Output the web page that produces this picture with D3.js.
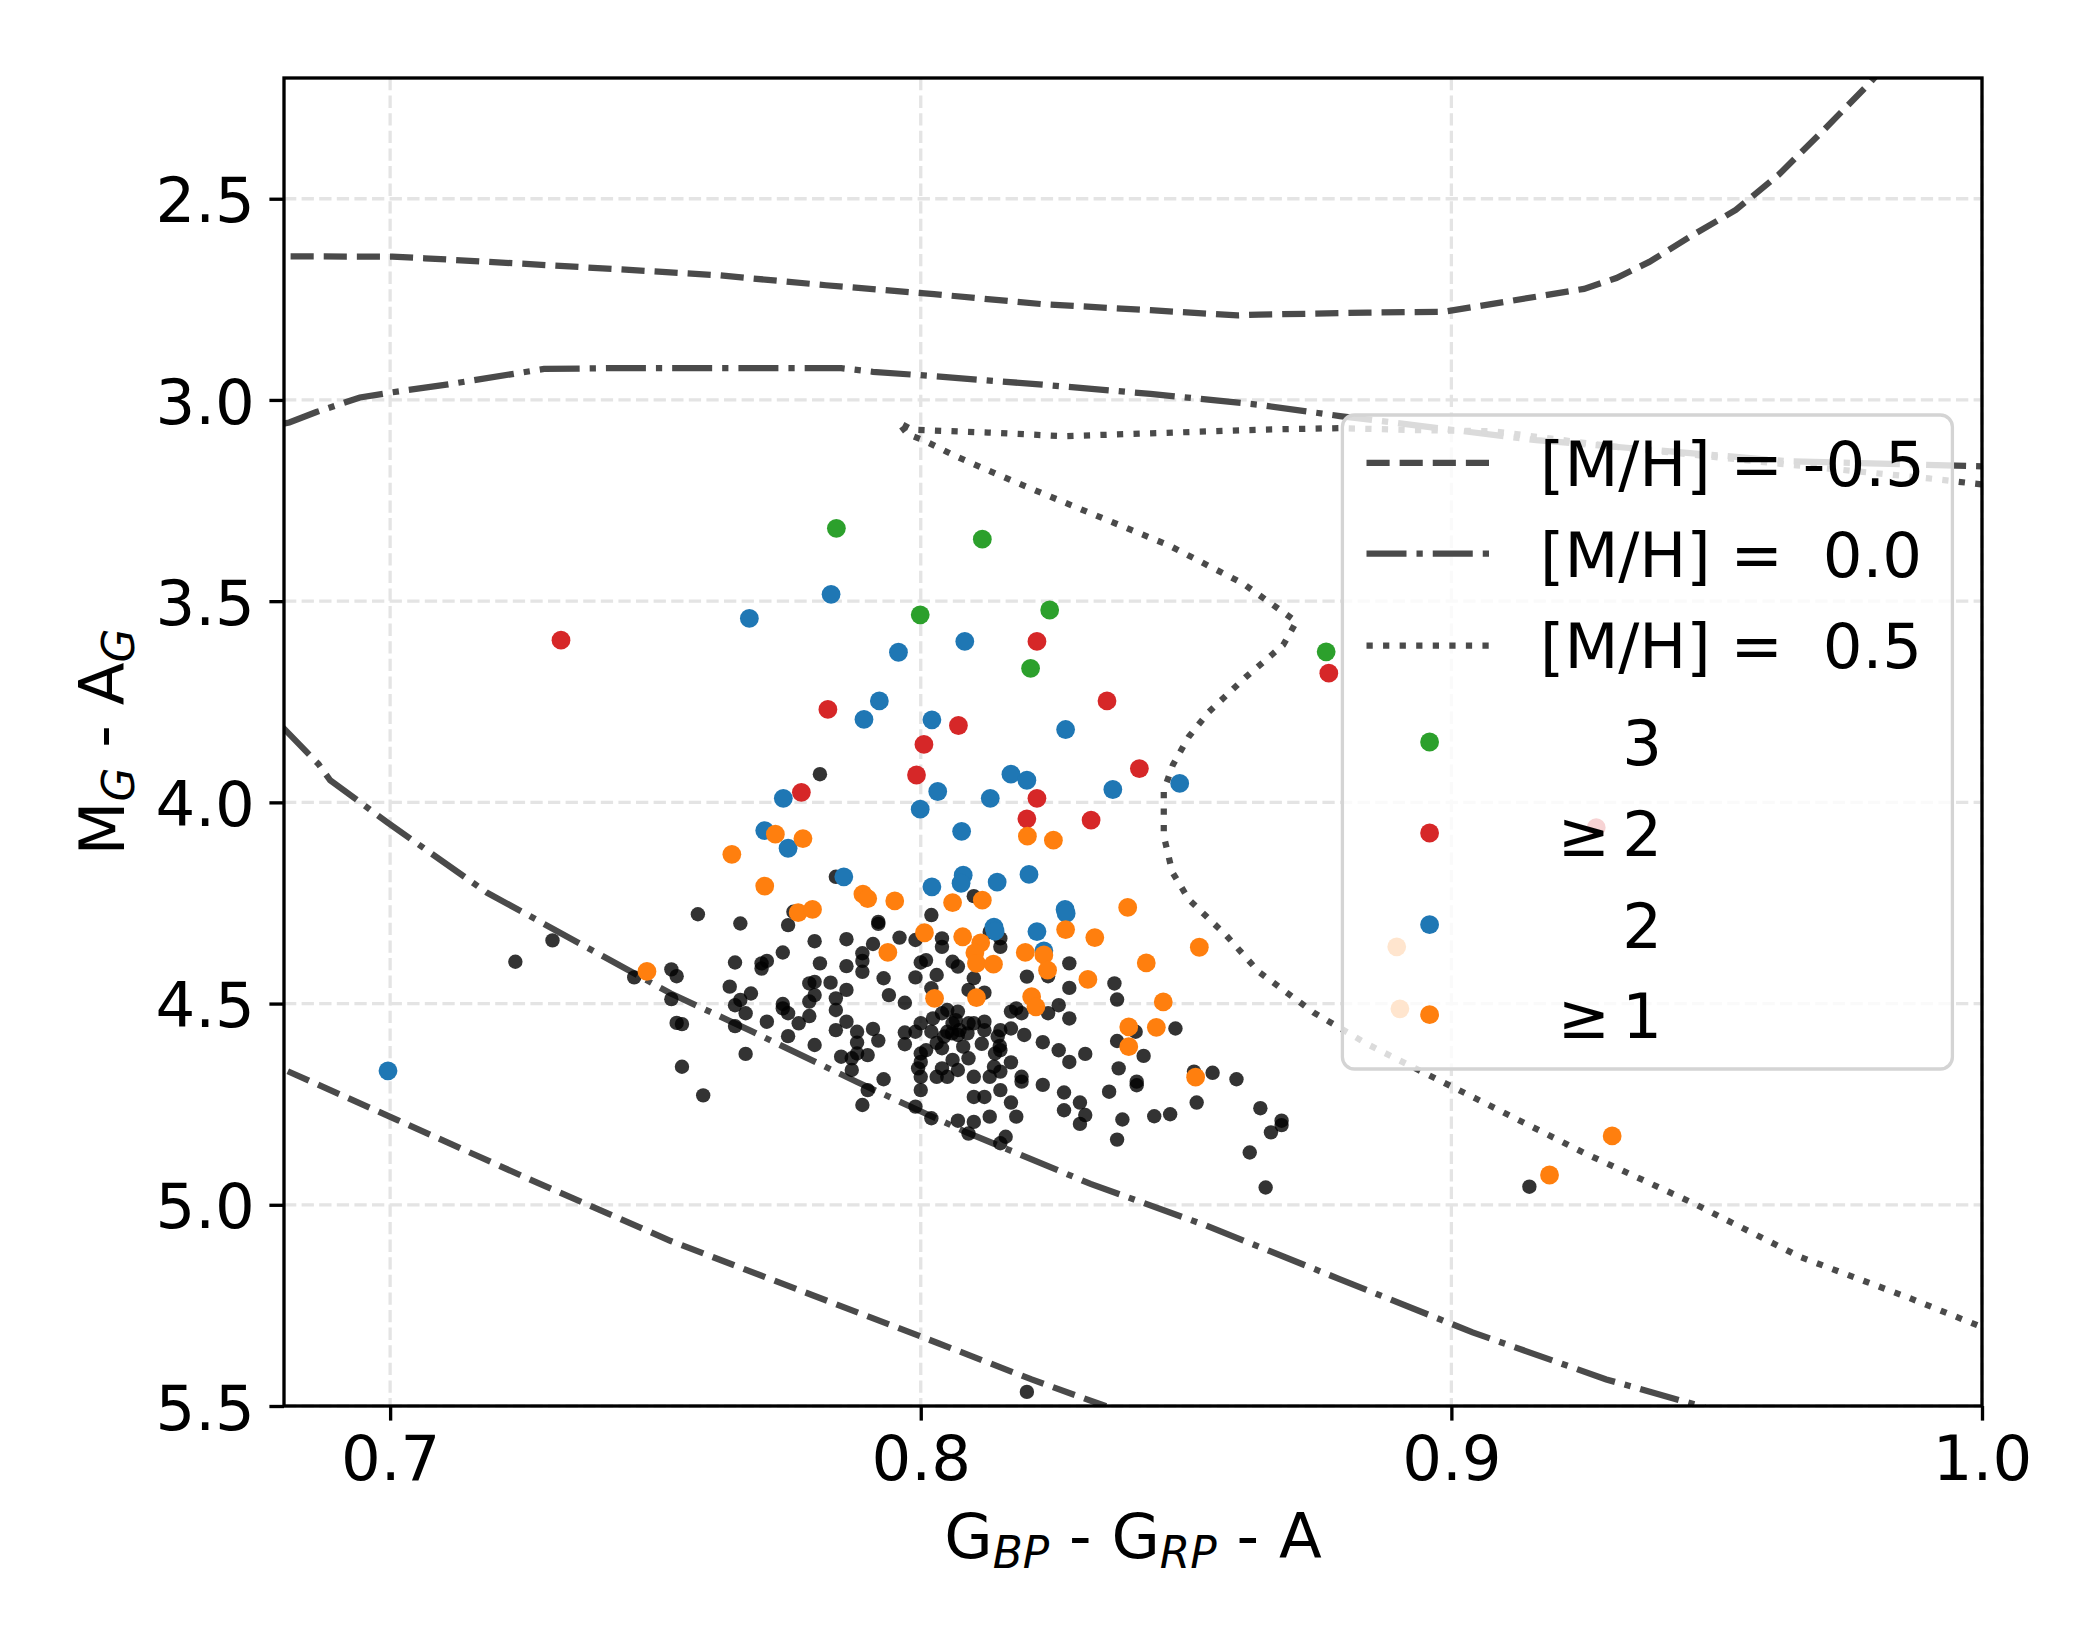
<!DOCTYPE html>
<html><head><meta charset="utf-8">
<script src="https://cdn.jsdelivr.net/npm/d3@7"></script>
<style>
body{margin:0;background:#fff}
svg{display:block}
text{font-family:"DejaVu Sans",sans-serif;fill:#000}
</style>
</head><body>
<svg id="chart" width="2100" height="1650"></svg>
<script>
// ---------- data ----------
const xTicks = [0.7, 0.8, 0.9, 1.0];
const yTicks = [2.5, 3.0, 3.5, 4.0, 4.5, 5.0, 5.5];

const lineLabels = ["[M/H] = -0.5", "[M/H] =  0.0", "[M/H] =  0.5"];
const pointLabels = ["3", "\u2265\u20092", "2", "\u2265\u20091"];

// isochrones (color, magnitude); null separates branches
const isoM05 = [[0.675,2.643],[0.7004,2.644],[0.7065,2.648],[0.731,2.666],[0.7617,2.690],[0.7821,2.715],[0.8025,2.737],[0.8229,2.762],[0.8433,2.777],[0.8597,2.790],[0.8637,2.788],[0.8842,2.783],[0.8985,2.781],[0.9046,2.768],[0.925,2.724],[0.9311,2.697],[0.9373,2.657],[0.9454,2.591],[0.9536,2.528],[0.9617,2.440],[0.9699,2.333],[0.9791,2.209],[0.981,2.18],
  null,
  [0.675,4.635],[0.68,4.664],[0.7015,4.79],[0.7277,4.945],[0.7529,5.09],[0.7781,5.217],[0.8033,5.344],[0.8209,5.434],[0.8348,5.50],[0.84,5.53]];

const isoM00 = [[0.6795,3.06],[0.681,3.056],[0.6861,3.030],[0.6943,2.994],[0.7004,2.981],[0.7106,2.962],[0.729,2.923],[0.7413,2.921],[0.7850,2.921],[0.7910,2.930],[0.8025,2.941],[0.8229,2.962],[0.8433,2.985],[0.8637,3.012],[0.879,3.040],[0.916,3.100],[0.963,3.152],[1.0,3.165],[1.003,3.166],
  null,
  [0.6795,3.81],[0.6865,3.905],[0.6887,3.945],[0.6995,4.05],[0.7182,4.224],[0.7297,4.307],[0.7529,4.475],[0.768,4.568],[0.788,4.695],[0.8083,4.818],[0.832,4.948],[0.8537,5.051],[0.8788,5.184],[0.904,5.317],[0.9292,5.434],[0.9469,5.50],[0.95,5.515]];

const isoP05 = [[1.003,3.213],[1.0,3.21],[0.99,3.195],[0.963,3.16],[0.93,3.115],[0.908,3.078],[0.893,3.075],[0.879,3.070],[0.8637,3.074],[0.8433,3.083],[0.827,3.090],[0.8127,3.081],[0.7984,3.074],[0.7958,3.056],[0.7975,3.085],[0.8005,3.10],[0.8066,3.14],[0.8176,3.203],[0.8321,3.282],[0.8467,3.361],[0.8607,3.456],[0.8708,3.551],[0.8683,3.609],[0.8613,3.688],[0.8543,3.775],[0.8505,3.837],[0.8475,3.907],[0.8458,3.971],[0.8458,4.083],[0.8474,4.173],[0.8505,4.241],[0.8576,4.331],[0.8637,4.421],[0.874,4.522],[0.8842,4.601],[0.8944,4.669],[0.9046,4.736],[0.925,4.871],[0.9454,4.995],[0.9658,5.130],[0.9862,5.231],[1.0,5.304],[1.003,5.32]];

// stars (color, magnitude)
const blackPts = [[0.758,4.278],[0.766,4.301],[0.775,4.305],[0.776,4.272],[0.780,4.345],[0.774,4.373],[0.765,4.398],[0.770,4.400],[0.770,4.413],[0.771,4.394],[0.753,4.415],[0.754,4.432],[0.746,4.435],[0.764,4.458],[0.768,4.475],[0.766,4.491],[0.765,4.504],[0.767,4.524],[0.753,4.489],[0.754,4.548],[0.755,4.551],[0.765,4.556],[0.771,4.545],[0.774,4.501],[0.774,4.512],[0.775,4.524],[0.777,4.549],[0.775,4.581],[0.780,4.603],[0.767,4.625],[0.755,4.657],[0.759,4.728],[0.779,4.450],[0.780,4.446],[0.780,4.479],[0.779,4.495],[0.779,4.531],[0.781,4.400],[0.783,4.448],[0.784,4.487],[0.784,4.516],[0.786,4.466],[0.786,4.545],[0.784,4.566],[0.786,4.407],[0.786,4.340],[0.788,4.570],[0.788,4.597],[0.788,4.624],[0.787,4.636],[0.785,4.632],[0.790,4.628],[0.792,4.592],[0.791,4.563],[0.789,4.421],[0.789,4.394],[0.789,4.375],[0.791,4.352],[0.792,4.297],[0.792,4.302],[0.793,4.437],[0.794,4.479],[0.796,4.336],[0.799,4.342],[0.799,4.435],[0.797,4.498],[0.797,4.572],[0.797,4.601],[0.801,4.392],[0.800,4.398],[0.802,4.280],[0.803,4.429],[0.804,4.338],[0.804,4.359],[0.802,4.462],[0.800,4.549],[0.802,4.570],[0.799,4.570],[0.800,4.624],[0.800,4.645],[0.800,4.682],[0.800,4.715],[0.7995,4.661],[0.801,4.616],[0.804,4.661],[0.803,4.682],[0.805,4.516],[0.806,4.549],[0.804,4.524],[0.805,4.570],[0.807,4.578],[0.807,4.520],[0.809,4.549],[0.808,4.607],[0.809,4.636],[0.807,4.665],[0.805,4.682],[0.806,4.640],[0.804,4.611],[0.810,4.549],[0.812,4.545],[0.812,4.566],[0.814,4.624],[0.813,4.682],[0.810,4.682],[0.810,4.732],[0.812,4.732],[0.813,4.781],[0.810,4.794],[0.807,4.791],[0.809,4.823],[0.802,4.785],[0.799,4.756],[0.793,4.688],[0.790,4.715],[0.789,4.752],[0.787,4.665],[0.806,4.396],[0.807,4.408],[0.810,4.437],[0.809,4.466],[0.812,4.473],[0.810,4.233],[0.813,4.322],[0.784,4.185],
  [0.815,4.338],[0.815,4.359],[0.828,4.400],[0.820,4.433],[0.824,4.432],[0.828,4.461],[0.8365,4.450],[0.837,4.490],[0.817,4.520],[0.818,4.512],[0.819,4.524],[0.824,4.524],[0.826,4.504],[0.828,4.537],[0.815,4.566],[0.817,4.562],[0.8195,4.578],[0.823,4.596],[0.815,4.616],[0.817,4.646],[0.826,4.616],[0.828,4.645],[0.831,4.625],[0.837,4.593],[0.8405,4.570],[0.848,4.562],[0.842,4.630],[0.8373,4.661],[0.815,4.669],[0.819,4.682],[0.819,4.694],[0.823,4.702],[0.815,4.715],[0.817,4.746],[0.818,4.781],[0.827,4.721],[0.830,4.746],[0.831,4.777],[0.830,4.799],[0.827,4.765],[0.8355,4.719],[0.8407,4.694],[0.8407,4.703],[0.838,4.788],[0.837,4.838],[0.844,4.780],[0.847,4.775],[0.852,4.746],[0.8515,4.669],[0.855,4.672],[0.8595,4.688],[0.864,4.760],[0.868,4.791],[0.868,4.802],[0.866,4.820],[0.862,4.870],[0.865,4.957],[0.816,4.831],[0.815,4.847],
  [0.7236,4.396],[0.7306,4.343],[0.781,3.930],[0.820,5.465],[0.9147,4.955],
  [0.8023,4.537],[0.8066,4.541],[0.8073,4.566],[0.8044,4.582],[0.8059,4.574],[0.8088,4.574],[0.8145,4.582],[0.8149,4.605],[0.8138,4.657],[0.8115,4.600],[0.8030,4.598]];

const greenPts = [[0.7841,3.319],[0.8116,3.346],[0.7999,3.534],[0.8243,3.522],[0.8207,3.667],[0.8764,3.626]];

const redPts = [[0.7322,3.597],[0.8219,3.600],[0.7825,3.769],[0.8071,3.809],[0.8006,3.856],[0.8351,3.748],[0.7992,3.932],[0.7775,3.975],[0.8412,3.916],[0.8219,3.990],[0.8200,4.041],[0.8321,4.044],[0.8769,3.679],[0.9273,4.063]];

const bluePts = [[0.7831,3.483],[0.7677,3.543],[0.8083,3.600],[0.7958,3.627],[0.7922,3.748],[0.7893,3.794],[0.8021,3.795],[0.8273,3.819],[0.8170,3.930],[0.8200,3.945],[0.8032,3.973],[0.8131,3.990],[0.8362,3.968],[0.8488,3.953],[0.7741,3.990],[0.7999,4.017],[0.7706,4.070],[0.7750,4.114],[0.8077,4.072],[0.7855,4.185],[0.8080,4.181],[0.8076,4.201],[0.8144,4.198],[0.8204,4.179],[0.8021,4.210],[0.8272,4.266],[0.8274,4.276],[0.8138,4.310],[0.8140,4.320],[0.8219,4.321],[0.8232,4.369],[0.6996,4.667]];

const orangePts = [[0.7644,4.129],[0.7726,4.079],[0.7778,4.090],[0.7706,4.208],[0.7769,4.274],[0.7796,4.266],[0.7891,4.228],[0.7900,4.239],[0.7951,4.245],[0.8007,4.324],[0.7938,4.373],[0.8060,4.249],[0.8116,4.243],[0.8079,4.334],[0.8113,4.349],[0.8102,4.374],[0.8105,4.400],[0.8137,4.402],[0.8026,4.487],[0.8105,4.485],[0.8197,4.373],[0.8232,4.379],[0.8239,4.417],[0.8209,4.483],[0.8217,4.508],[0.8273,4.316],[0.8328,4.336],[0.8390,4.261],[0.8315,4.440],[0.8425,4.399],[0.8525,4.360],[0.8457,4.496],[0.8392,4.558],[0.8444,4.559],[0.8392,4.607],[0.8518,4.683],[0.8201,4.084],[0.8250,4.094],[0.7484,4.420],[0.9303,4.829],[0.9185,4.926],[0.8897,4.359],[0.8903,4.513]];

// ---------- drawing ----------
const svg = d3.select("#chart");
const M = {l:284, r:1982, t:78, b:1406};
const FS = 62.5;
const LW = 6.25;
const lineColor = "#4a4a4a";

const x = d3.scaleLinear().domain([0.68, 1.0]).range([M.l, M.r]);
const y = d3.scaleLinear().domain([2.2, 5.5]).range([M.t, M.b]);

svg.append("defs").append("clipPath").attr("id","plotclip")
  .append("rect").attr("x",M.l).attr("y",M.t).attr("width",M.r-M.l).attr("height",M.b-M.t);

// grid
const grid = svg.append("g").attr("stroke","#e4e4e4").attr("stroke-width",3.3).attr("stroke-dasharray","12.3,5.3");
grid.selectAll("line.gx").data(xTicks).join("line").attr("class","gx")
  .attr("x1",d=>x(d)).attr("x2",d=>x(d)).attr("y1",M.t).attr("y2",M.b);
grid.selectAll("line.gy").data(yTicks).join("line").attr("class","gy")
  .attr("y1",d=>y(d)).attr("y2",d=>y(d)).attr("x1",M.l).attr("x2",M.r);

const plot = svg.append("g").attr("clip-path","url(#plotclip)");

const line = d3.line().defined(d => d !== null).x(d => x(d[0])).y(d => y(d[1]));
const isoDefs = [
  {data: isoM05, dash: (3.7*LW)+","+(1.6*LW)},
  {data: isoM00, dash: (6.4*LW)+","+(1.6*LW)+","+(1*LW)+","+(1.6*LW)},
  {data: isoP05, dash: (1*LW)+","+(1.65*LW)}
];
plot.selectAll("path.iso").data(isoDefs).join("path").attr("class","iso")
  .attr("d", d => line(d.data))
  .attr("fill","none").attr("stroke",lineColor).attr("stroke-width",LW)
  .attr("stroke-dasharray", d => d.dash);

// points
plot.selectAll("circle.blk").data(blackPts).join("circle").attr("class","blk")
  .attr("cx",d=>x(d[0])).attr("cy",d=>y(d[1])).attr("r",7.2)
  .attr("fill","#000").attr("fill-opacity",0.8);

const groups = [
  {pts: greenPts, color: "#2ca02c"},
  {pts: redPts, color: "#d62728"},
  {pts: bluePts, color: "#1f77b4"},
  {pts: orangePts, color: "#ff7f0e"}
];
groups.forEach((g,i) => {
  plot.selectAll("circle.c"+i).data(g.pts).join("circle").attr("class","c"+i)
    .attr("cx",d=>x(d[0])).attr("cy",d=>y(d[1])).attr("r",9.4).attr("fill",g.color);
});

// axes
const xAxis = svg.append("g").attr("transform",`translate(0,${M.b})`)
  .call(d3.axisBottom(x).tickValues(xTicks).tickFormat(d3.format(".1f")).tickSize(14.6).tickPadding(14.6).tickSizeOuter(0));
const yAxis = svg.append("g").attr("transform",`translate(${M.l},0)`)
  .call(d3.axisLeft(y).tickValues(yTicks).tickFormat(d3.format(".1f")).tickSize(14.6).tickPadding(14.6).tickSizeOuter(0));
[xAxis, yAxis].forEach(a => {
  a.select(".domain").remove();
  a.selectAll(".tick line").attr("stroke","#000").attr("stroke-width",3.33);
  a.selectAll(".tick text").attr("font-size",FS).attr("font-family","DejaVu Sans").attr("fill","#000");
});
yAxis.selectAll(".tick text").attr("dy","0.37em");

// spines
svg.append("rect").attr("x",M.l).attr("y",M.t).attr("width",M.r-M.l).attr("height",M.b-M.t)
  .attr("fill","none").attr("stroke","#000").attr("stroke-width",3.33);

// axis labels
const xl = svg.append("text").attr("x",(M.l+M.r)/2).attr("y",1558).attr("text-anchor","middle").attr("font-size",FS);
xl.append("tspan").text("G");
xl.append("tspan").attr("font-size",FS*0.7).attr("font-style","italic").attr("dy",10).text("BP");
xl.append("tspan").attr("dy",-10).text(" - G");
xl.append("tspan").attr("font-size",FS*0.7).attr("font-style","italic").attr("dy",10).text("RP");
xl.append("tspan").attr("dy",-10).text(" - A");

const yl = svg.append("text").attr("transform",`translate(124.3,${(M.t+M.b)/2}) rotate(-90)`)
  .attr("text-anchor","middle").attr("font-size",FS);
yl.append("tspan").text("M");
yl.append("tspan").attr("font-size",FS*0.7).attr("font-style","italic").attr("dy",10).text("G");
yl.append("tspan").attr("dy",-10).text(" - A");
yl.append("tspan").attr("font-size",FS*0.7).attr("font-style","italic").attr("dy",10).text("G");

// legend
const leg = svg.append("g");
leg.append("rect").attr("x",1342.4).attr("y",415).attr("width",610).attr("height",654).attr("rx",12)
  .attr("fill","#fff").attr("fill-opacity",0.8).attr("stroke","#d4d4d4").attr("stroke-width",3.3);
const lineRowsY = [462.8, 553.7, 645.5];
const ptRowsY = [742, 833, 924.7, 1014.7];
isoDefs.forEach((d,i) => {
  leg.append("line").attr("x1",1366.5).attr("x2",1489.7).attr("y1",lineRowsY[i]).attr("y2",lineRowsY[i])
    .attr("stroke",lineColor).attr("stroke-width",LW).attr("stroke-dasharray",d.dash);
  leg.append("text").attr("x",1540).attr("y",lineRowsY[i]+22.8).attr("font-size",FS)
    .style("white-space","pre").text(lineLabels[i]);
});
groups.forEach((g,i) => {
  leg.append("circle").attr("cx",1429.6).attr("cy",ptRowsY[i]).attr("r",9.4).attr("fill",g.color);
  leg.append("text").attr("x",1662).attr("y",ptRowsY[i]+22.8).attr("font-size",FS)
    .attr("text-anchor","end").text(pointLabels[i]);
});
</script>
</body></html>
